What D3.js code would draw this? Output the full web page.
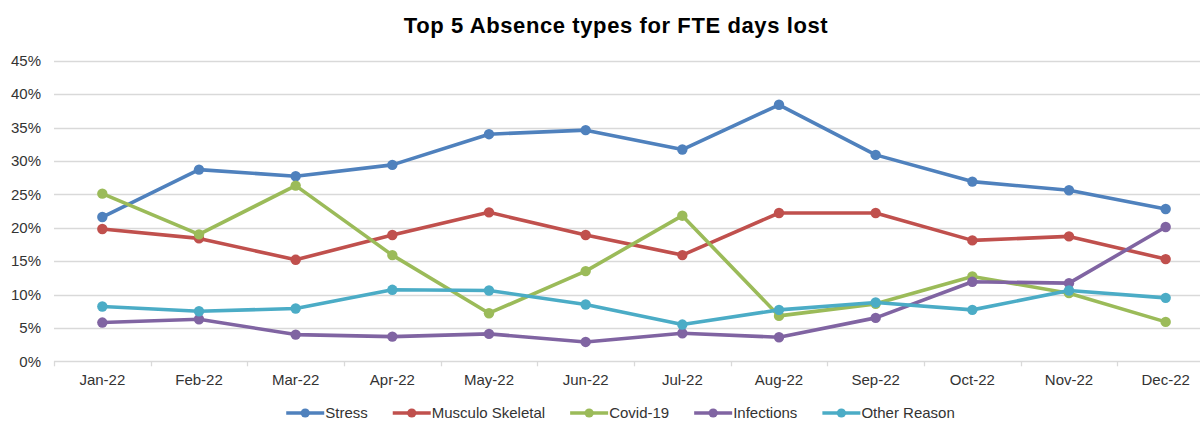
<!DOCTYPE html>
<html>
<head>
<meta charset="utf-8">
<script src="https://cdn.jsdelivr.net/npm/d3@7"></script>
<style>
  html, body { margin: 0; padding: 0; background: #fff; }
  svg { display: block; font-family: "Liberation Sans", Arial, sans-serif; }
</style>
</head>
<body>
<svg id="chart" width="1200" height="421"></svg>
<script>
const months = ["Jan-22","Feb-22","Mar-22","Apr-22","May-22","Jun-22","Jul-22","Aug-22","Sep-22","Oct-22","Nov-22","Dec-22"];
const yTicks = [0, 5, 10, 15, 20, 25, 30, 35, 40, 45];
const seriesNames = ["Stress","Musculo Skeletal","Covid-19","Infections","Other Reason"];
const stress    = [21.6, 28.7, 27.7, 29.4, 34.0, 34.6, 31.7, 38.4, 30.9, 26.9, 25.6, 22.8];
const musculo   = [19.8, 18.4, 15.2, 18.9, 22.3, 18.9, 15.9, 22.2, 22.2, 18.1, 18.7, 15.3];
const covid     = [25.1, 19.0, 26.3, 15.9, 7.2, 13.5, 21.8, 6.8, 8.6, 12.7, 10.2, 5.9];
const infections= [5.8, 6.3, 4.0, 3.7, 4.1, 2.9, 4.2, 3.6, 6.5, 11.9, 11.7, 20.1];
const other     = [8.2, 7.5, 7.9, 10.7, 10.6, 8.5, 5.5, 7.7, 8.8, 7.7, 10.6, 9.5];
const colors = ["#4F81BD","#C0504D","#9BBB59","#8064A2","#4BACC6"];

(function() {
const series = [stress, musculo, covid, infections, other].map((v, i) => ({name: seriesNames[i], values: v, color: colors[i]}));

const svg = d3.select("#chart");
const pLeft = 54, pRight = 1214, pTop = 60.7, pBottom = 361.3;

const x = d3.scaleBand().domain(months).range([pLeft, pRight]);
const y = d3.scaleLinear().domain([0, 45]).range([pBottom, pTop]);

// gridlines
svg.append("g").selectAll("line").data(yTicks).join("line")
  .attr("x1", pLeft).attr("x2", pRight)
  .attr("y1", d => Math.round(y(d)) + 0.5).attr("y2", d => Math.round(y(d)) + 0.5)
  .attr("stroke", "#d9d9d9").attr("stroke-width", 1.3);

// y axis labels
const yAxis = d3.axisLeft(y).tickValues(yTicks).tickFormat(d => d + "%").tickSize(0).tickPadding(0);
const yg = svg.append("g").attr("transform", `translate(41,0)`).call(yAxis);
yg.select(".domain").remove();
yg.selectAll("text").attr("font-size", 15).attr("fill", "#333").attr("font-family", "Liberation Sans, Arial, sans-serif");

// x axis
const boundaries = d3.range(months.length + 1).map(i => pLeft + i * x.bandwidth());
svg.append("g").selectAll("line").data(boundaries).join("line")
  .attr("x1", d => Math.round(d) + 0.5).attr("x2", d => Math.round(d) + 0.5)
  .attr("y1", pBottom).attr("y2", pBottom + 5)
  .attr("stroke", "#d9d9d9").attr("stroke-width", 1.3);
const xAxis = d3.axisBottom(x).tickSize(0).tickPadding(0);
const xg = svg.append("g").attr("transform", `translate(0,${pBottom + 19})`).call(xAxis);
xg.select(".domain").remove();
xg.selectAll("text").attr("font-size", 15).attr("fill", "#333").attr("dy", "0.71em").attr("y", -6)
  .attr("font-family", "Liberation Sans, Arial, sans-serif");

// lines
const line = d3.line().x((d, i) => x(months[i]) + x.bandwidth() / 2).y(d => y(d));
const sg = svg.append("g").selectAll("g").data(series).join("g");
sg.append("path").attr("d", d => line(d.values)).attr("fill", "none")
  .attr("stroke", d => d.color).attr("stroke-width", 3.6).attr("stroke-linejoin", "round");
sg.each(function(s) {
  d3.select(this).selectAll("circle").data(s.values).join("circle")
    .attr("cx", (d, i) => x(months[i]) + x.bandwidth() / 2)
    .attr("cy", d => y(d)).attr("r", 5.2).attr("fill", s.color);
});

// title
svg.append("text").attr("x", 616).attr("y", 33).attr("text-anchor", "middle")
  .attr("font-size", 22).attr("font-weight", "bold").attr("fill", "#000")
  .attr("letter-spacing", 0.6)
  .text("Top 5 Absence types for FTE days lost");

// legend
const lg = svg.append("g");
const items = lg.selectAll("g").data(series).join("g");
items.append("line").attr("x1", 0).attr("x2", 38).attr("y1", 0).attr("y2", 0)
  .attr("stroke", d => d.color).attr("stroke-width", 3.6);
items.append("circle").attr("cx", 19).attr("cy", 0).attr("r", 4.6).attr("fill", d => d.color);
items.append("text").attr("x", 39).attr("y", 0).attr("dy", "0.35em")
  .attr("font-size", 15).attr("fill", "#333").text(d => d.name);
let cx = 0;
items.each(function() {
  const w = 39 + this.querySelector("text").getComputedTextLength();
  d3.select(this).attr("transform", `translate(${cx},0)`);
  cx += w + 25;
});
const totalW = cx - 25;
lg.attr("transform", `translate(${620.5 - totalW / 2},413)`);
})();
</script>
</body>
</html>
